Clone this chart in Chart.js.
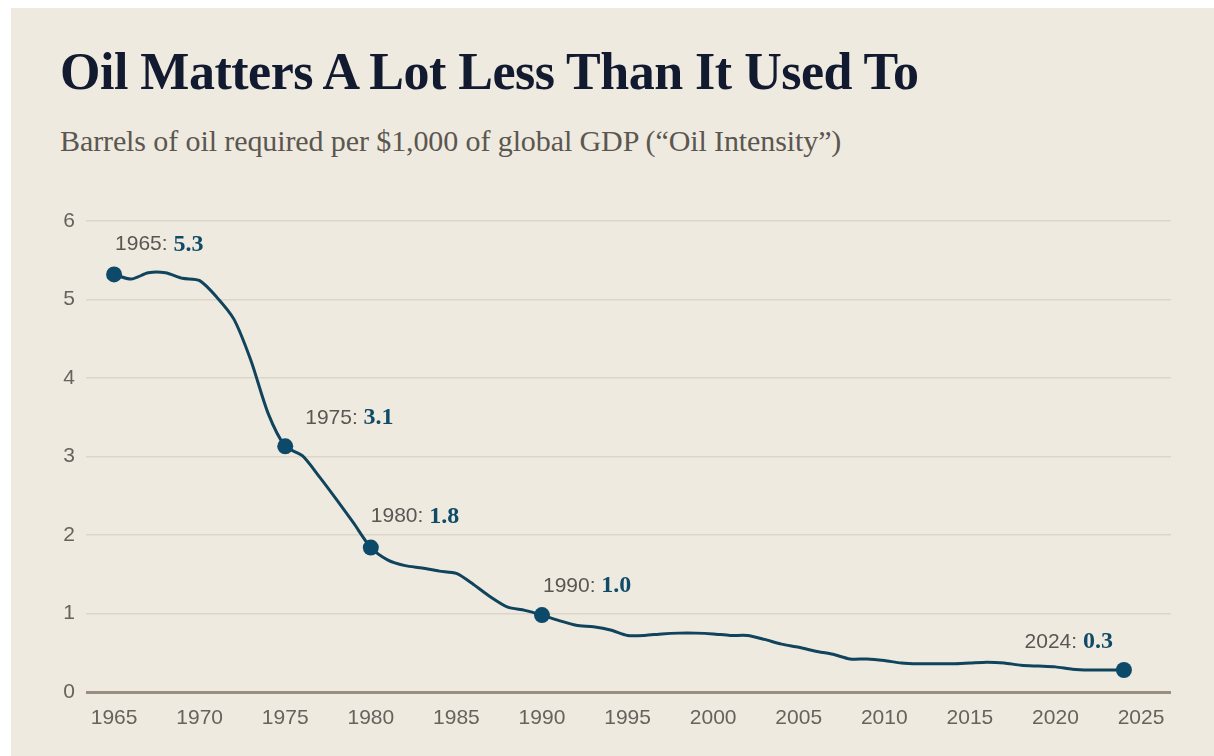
<!DOCTYPE html>
<html>
<head>
<meta charset="utf-8">
<script src="https://cdn.jsdelivr.net/npm/chart.js@4.4.1/dist/chart.umd.min.js"></script>
<style>
  html, body { margin: 0; padding: 0; background: #ffffff; }
  body { width: 1214px; height: 756px; overflow: hidden; position: relative; }
  #card {
    position: absolute; left: 11px; top: 8px; width: 1203px; height: 748px;
    background: #efeae0;
  }
  #title {
    position: absolute; left: 49px; top: 34px; margin: 0;
    font-family: 'Liberation Serif', serif; font-weight: bold; font-size: 52px;
    color: #121a30; white-space: nowrap; letter-spacing: -0.5px;
  }
  #subtitle {
    position: absolute; left: 49px; top: 116px; margin: 0;
    font-family: 'Liberation Serif', serif; font-weight: normal; font-size: 30px;
    color: #5b5750; white-space: nowrap; letter-spacing: -0.1px;
  }
  #wrap { position: absolute; left: 0; top: 172px; width: 1203px; height: 576px; }
</style>
</head>
<body>
<div id="card">
  <h1 id="title">Oil Matters A Lot Less Than It Used To</h1>
  <p id="subtitle">Barrels of oil required per $1,000 of global GDP (“Oil Intensity”)</p>
  <div id="wrap"><canvas id="oilChart"></canvas></div>
</div>
<script>
// Oil intensity, barrels per $1,000 of global GDP
const years = [
  1965, 1966, 1967, 1968, 1969, 1970, 1971, 1972, 1973, 1974,
  1975, 1976, 1977, 1978, 1979, 1980, 1981, 1982, 1983, 1984,
  1985, 1986, 1987, 1988, 1989, 1990, 1991, 1992, 1993, 1994,
  1995, 1996, 1997, 1998, 1999, 2000, 2001, 2002, 2003, 2004,
  2005, 2006, 2007, 2008, 2009, 2010, 2011, 2012, 2013, 2014,
  2015, 2016, 2017, 2018, 2019, 2020, 2021, 2022, 2023, 2024
];
const intensity = [
  5.32, 5.26, 5.34, 5.34, 5.27, 5.24, 5.03, 4.75, 4.22, 3.55,
  3.13, 3.01, 2.74, 2.45, 2.15, 1.84, 1.68, 1.61, 1.58, 1.54,
  1.51, 1.37, 1.21, 1.08, 1.04, 0.98, 0.91, 0.85, 0.83, 0.79,
  0.72, 0.72, 0.74, 0.75, 0.75, 0.74, 0.72, 0.72, 0.67, 0.61,
  0.57, 0.52, 0.48, 0.42, 0.42, 0.40, 0.37, 0.36, 0.36, 0.36,
  0.37, 0.38, 0.37, 0.34, 0.33, 0.32, 0.29, 0.28, 0.28, 0.28
];

// Highlighted points and their callouts
const calloutYears = [1965, 1975, 1980, 1990, 2024];
const calloutValues = ['5.3', '3.1', '1.8', '1.0', '0.3'];

// Axis ticks
const xTicks = [1965, 1970, 1975, 1980, 1985, 1990, 1995, 2000, 2005, 2010, 2015, 2020, 2025];
const yTicks = [0, 1, 2, 3, 4, 5, 6];

const colors = {
  line: '#0f445c',
  dot: '#0d4a6a',
  value: '#0f4a66',
  label: '#5a5752',
  tick: '#66625c',
  grid: '#ddd6c8',
  zero: '#9a8e80'
};

const tickFont = { family: "'Liberation Sans', Arial, sans-serif", size: 21 };

// Callout offsets relative to each point: [dx, dy, align]
const calloutOffsets = {
  1965: [1, -30, 'left'],
  1975: [20, -28, 'left'],
  1980: [0, -31, 'left'],
  1990: [1, -29, 'left'],
  2024: [-11, -28, 'right']
};

const calloutPlugin = {
  id: 'callouts',
  afterDatasetsDraw(chart) {
    const meta = chart.getDatasetMeta(0);
    const ctx = chart.ctx;
    ctx.save();
    ctx.textBaseline = 'middle';
    calloutYears.forEach((yr, i) => {
      const idx = years.indexOf(yr);
      const pt = meta.data[idx];
      const [dx, dy, align] = calloutOffsets[yr];
      const head = yr + ': ';
      const val = calloutValues[i];
      const headFont = "21px 'Liberation Sans', Arial, sans-serif";
      const valFont = "bold 24px 'Liberation Serif', serif";
      ctx.font = headFont;
      const wHead = ctx.measureText(head).width;
      ctx.font = valFont;
      const wVal = ctx.measureText(val).width;
      let x = pt.x + dx;
      if (align === 'right') x -= (wHead + wVal);
      const y = pt.y + dy;
      ctx.textAlign = 'left';
      ctx.font = headFont;
      ctx.fillStyle = colors.label;
      ctx.fillText(head, x, y);
      ctx.font = valFont;
      ctx.fillStyle = colors.value;
      ctx.fillText(val, x + wHead, y);
    });
    ctx.restore();
  }
};

function initOilChart() {
  const ctx = document.getElementById('oilChart');

  new Chart(ctx, {
    type: 'line',
    data: {
      datasets: [{
        label: 'Oil intensity',
        data: years.map((yr, i) => ({ x: yr, y: intensity[i] })),
        borderColor: colors.line,
        borderWidth: 3,
        tension: 0.25,
        fill: false,
        pointRadius: (c) => calloutYears.includes(years[c.dataIndex]) ? 8 : 0,
        pointBackgroundColor: colors.dot,
        pointBorderColor: colors.dot,
        pointBorderWidth: 0,
        pointHoverRadius: 8
      }]
    },
    options: {
      responsive: true,
      maintainAspectRatio: false,
      animation: false,
      layout: { padding: { left: 0, right: 43, top: 41, bottom: 0 } },
      plugins: {
        legend: { display: false },
        tooltip: { enabled: false }
      },
      scales: {
        x: {
          type: 'linear',
          min: 1963.36,
          max: 2026.75,
          afterBuildTicks: (scale) => { scale.ticks = xTicks.map(v => ({ value: v })); },
          afterFit: (scale) => { scale.height = 64; },
          grid: { display: false, drawTicks: false },
          border: { display: false },
          ticks: {
            color: colors.tick,
            font: tickFont,
            padding: 14,
            maxRotation: 0,
            autoSkip: false,
            callback: (v) => String(v)
          }
        },
        y: {
          min: 0,
          max: 6,
          afterBuildTicks: (scale) => { scale.ticks = yTicks.map(v => ({ value: v })); },
          afterFit: (scale) => { scale.width = 75; },
          grid: {
            drawTicks: false,
            color: (c) => c.tick && c.tick.value === 0 ? colors.zero : colors.grid,
            lineWidth: (c) => c.tick && c.tick.value === 0 ? 3 : 1.5
          },
          border: { display: false },
          ticks: {
            color: colors.tick,
            font: tickFont,
            padding: 11
          }
        }
      }
    },
    plugins: [calloutPlugin]
  });
}

document.addEventListener('DOMContentLoaded', initOilChart);
</script>
</body>
</html>
